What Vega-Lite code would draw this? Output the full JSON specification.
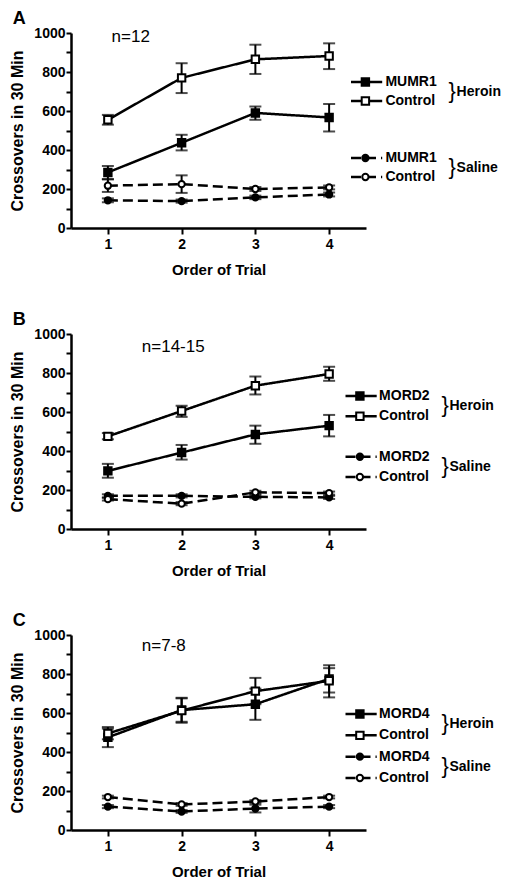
{
  "$schema": "https://vega.github.io/schema/vega-lite/v6.json",
  "padding": {"left": 9, "top": 10, "right": 0, "bottom": 0},
  "spacing": 34,
  "datasets": {
    "A": [
      {"trial": 1, "treatment": "Heroin", "genotype": "Gene", "value": 285, "lo": 250, "hi": 318},
      {"trial": 2, "treatment": "Heroin", "genotype": "Gene", "value": 437, "lo": 398, "hi": 478},
      {"trial": 3, "treatment": "Heroin", "genotype": "Gene", "value": 590, "lo": 555, "hi": 623},
      {"trial": 4, "treatment": "Heroin", "genotype": "Gene", "value": 567, "lo": 495, "hi": 636},
      {"trial": 1, "treatment": "Heroin", "genotype": "Control", "value": 555, "lo": 530, "hi": 580},
      {"trial": 2, "treatment": "Heroin", "genotype": "Control", "value": 770, "lo": 692, "hi": 845},
      {"trial": 3, "treatment": "Heroin", "genotype": "Control", "value": 865, "lo": 790, "hi": 940},
      {"trial": 4, "treatment": "Heroin", "genotype": "Control", "value": 882, "lo": 815, "hi": 947},
      {"trial": 1, "treatment": "Saline", "genotype": "Gene", "value": 142, "lo": 132, "hi": 152},
      {"trial": 2, "treatment": "Saline", "genotype": "Gene", "value": 138, "lo": 130, "hi": 146},
      {"trial": 3, "treatment": "Saline", "genotype": "Gene", "value": 157, "lo": 148, "hi": 166},
      {"trial": 4, "treatment": "Saline", "genotype": "Gene", "value": 172, "lo": 162, "hi": 182},
      {"trial": 1, "treatment": "Saline", "genotype": "Control", "value": 217, "lo": 185, "hi": 250},
      {"trial": 2, "treatment": "Saline", "genotype": "Control", "value": 225, "lo": 180, "hi": 270},
      {"trial": 3, "treatment": "Saline", "genotype": "Control", "value": 200, "lo": 190, "hi": 210},
      {"trial": 4, "treatment": "Saline", "genotype": "Control", "value": 208, "lo": 198, "hi": 218}
    ],
    "B": [
      {"trial": 1, "treatment": "Heroin", "genotype": "Gene", "value": 298, "lo": 263, "hi": 334},
      {"trial": 2, "treatment": "Heroin", "genotype": "Gene", "value": 392, "lo": 356, "hi": 431},
      {"trial": 3, "treatment": "Heroin", "genotype": "Gene", "value": 485, "lo": 437, "hi": 530},
      {"trial": 4, "treatment": "Heroin", "genotype": "Gene", "value": 530, "lo": 475, "hi": 585},
      {"trial": 1, "treatment": "Heroin", "genotype": "Control", "value": 475, "lo": 460, "hi": 492},
      {"trial": 2, "treatment": "Heroin", "genotype": "Control", "value": 605, "lo": 575, "hi": 632},
      {"trial": 3, "treatment": "Heroin", "genotype": "Control", "value": 735, "lo": 690, "hi": 782},
      {"trial": 4, "treatment": "Heroin", "genotype": "Control", "value": 795, "lo": 760, "hi": 832},
      {"trial": 1, "treatment": "Saline", "genotype": "Gene", "value": 170, "lo": 162, "hi": 178},
      {"trial": 2, "treatment": "Saline", "genotype": "Gene", "value": 170, "lo": 162, "hi": 178},
      {"trial": 3, "treatment": "Saline", "genotype": "Gene", "value": 165, "lo": 157, "hi": 173},
      {"trial": 4, "treatment": "Saline", "genotype": "Gene", "value": 162, "lo": 154, "hi": 170},
      {"trial": 1, "treatment": "Saline", "genotype": "Control", "value": 153, "lo": 146, "hi": 160},
      {"trial": 2, "treatment": "Saline", "genotype": "Control", "value": 130, "lo": 122, "hi": 138},
      {"trial": 3, "treatment": "Saline", "genotype": "Control", "value": 188, "lo": 180, "hi": 196},
      {"trial": 4, "treatment": "Saline", "genotype": "Control", "value": 184, "lo": 176, "hi": 192}
    ],
    "C": [
      {"trial": 1, "treatment": "Heroin", "genotype": "Gene", "value": 475, "lo": 425, "hi": 520},
      {"trial": 2, "treatment": "Heroin", "genotype": "Gene", "value": 615, "lo": 550, "hi": 675},
      {"trial": 3, "treatment": "Heroin", "genotype": "Gene", "value": 645, "lo": 565, "hi": 725},
      {"trial": 4, "treatment": "Heroin", "genotype": "Gene", "value": 775, "lo": 705, "hi": 845},
      {"trial": 1, "treatment": "Heroin", "genotype": "Control", "value": 495, "lo": 465, "hi": 528},
      {"trial": 2, "treatment": "Heroin", "genotype": "Control", "value": 612, "lo": 555, "hi": 678},
      {"trial": 3, "treatment": "Heroin", "genotype": "Control", "value": 712, "lo": 645, "hi": 780},
      {"trial": 4, "treatment": "Heroin", "genotype": "Control", "value": 765, "lo": 680, "hi": 830},
      {"trial": 1, "treatment": "Saline", "genotype": "Gene", "value": 120, "lo": 112, "hi": 128},
      {"trial": 2, "treatment": "Saline", "genotype": "Gene", "value": 95, "lo": 88, "hi": 102},
      {"trial": 3, "treatment": "Saline", "genotype": "Gene", "value": 110, "lo": 90, "hi": 130},
      {"trial": 4, "treatment": "Saline", "genotype": "Gene", "value": 120, "lo": 112, "hi": 128},
      {"trial": 1, "treatment": "Saline", "genotype": "Control", "value": 169, "lo": 162, "hi": 176},
      {"trial": 2, "treatment": "Saline", "genotype": "Control", "value": 131, "lo": 124, "hi": 138},
      {"trial": 3, "treatment": "Saline", "genotype": "Control", "value": 146, "lo": 139, "hi": 153},
      {"trial": 4, "treatment": "Saline", "genotype": "Control", "value": 169, "lo": 162, "hi": 176}
    ],
    "notes": [
      {"panel": "A", "note": "n=12"},
      {"panel": "B", "note": "n=14-15"},
      {"panel": "C", "note": "n=7-8"}
    ],
    "LA": [
      {"slot": "h1", "label": "MUMR1", "treatment": "Heroin", "genotype": "Gene", "group": "Heroin"},
      {"slot": "h2", "label": "Control", "treatment": "Heroin", "genotype": "Control", "group": null},
      {"slot": "s1", "label": "MUMR1", "treatment": "Saline", "genotype": "Gene", "group": "Saline"},
      {"slot": "s2", "label": "Control", "treatment": "Saline", "genotype": "Control", "group": null}
    ],
    "LB": [
      {"slot": "h1", "label": "MORD2", "treatment": "Heroin", "genotype": "Gene", "group": "Heroin"},
      {"slot": "h2", "label": "Control", "treatment": "Heroin", "genotype": "Control", "group": null},
      {"slot": "s1", "label": "MORD2", "treatment": "Saline", "genotype": "Gene", "group": "Saline"},
      {"slot": "s2", "label": "Control", "treatment": "Saline", "genotype": "Control", "group": null}
    ],
    "LC": [
      {"slot": "h1", "label": "MORD4", "treatment": "Heroin", "genotype": "Gene", "group": "Heroin"},
      {"slot": "h2", "label": "Control", "treatment": "Heroin", "genotype": "Control", "group": null},
      {"slot": "s1", "label": "MORD4", "treatment": "Saline", "genotype": "Gene", "group": "Saline"},
      {"slot": "s2", "label": "Control", "treatment": "Saline", "genotype": "Control", "group": null}
    ]
  },
  "vconcat": [
    {
      "title": {"text": "A", "anchor": "start", "frame": "bounds", "fontSize": 18, "fontWeight": "bold", "offset": -2, "dx": 3},
      "width": 295, "height": 195,
      "resolve": {"scale": {"x": "independent", "y": "independent"}},
      "layer": [
        {
          "data": {"name": "A"},
          "encoding": {
            "x": {"field": "trial", "type": "quantitative", "scale": {"domain": [0.5, 4.5]}, "title": "Order of Trial", "axis": {"values": [1, 2, 3, 4], "format": "d"}},
            "y": {"field": "value", "type": "quantitative", "scale": {"domain": [0, 1000]}, "title": "Crossovers in 30 Min", "axis": {"values": [0, 100, 200, 300, 400, 500, 600, 700, 800, 900, 1000], "labelExpr": "datum.value % 200 == 0 ? datum.label : ''", "labelOverlap": false, "format": "d"}}
          },
          "layer": [
            {"mark": {"type": "errorbar", "ticks": true, "size": 12, "thickness": 2, "color": "black"}, "encoding": {"y": {"field": "lo", "type": "quantitative"}, "y2": {"field": "hi"}}},
            {"mark": {"type": "line", "color": "black", "strokeWidth": 2.5}, "encoding": {"detail": {"field": "genotype"}, "strokeDash": {"field": "treatment", "type": "nominal", "scale": {"domain": ["Heroin", "Saline"], "range": [[1, 0], [10, 5]]}, "legend": null}}},
            {"mark": {"type": "point", "filled": true, "stroke": "black", "strokeWidth": 2, "opacity": 1}, "encoding": {
              "shape": {"field": "treatment", "type": "nominal", "scale": {"domain": ["Heroin", "Saline"], "range": ["square", "circle"]}, "legend": null},
              "fill": {"field": "genotype", "type": "nominal", "scale": {"domain": ["Gene", "Control"], "range": ["black", "white"]}, "legend": null},
              "size": {"field": "treatment", "type": "nominal", "scale": {"domain": ["Heroin", "Saline"], "range": [55, 40]}, "legend": null}}}
          ]
        },
        {
          "data": {"name": "notes"},
          "transform": [{"filter": "datum.panel == 'A'"}],
          "mark": {"type": "text", "fontSize": 17, "align": "left", "baseline": "middle", "color": "black"},
          "encoding": {
            "x": {"datum": 1.05, "type": "quantitative", "scale": {"domain": [0.5, 4.5]}, "axis": null},
            "y": {"datum": 978, "type": "quantitative", "scale": {"domain": [0, 1000]}, "axis": null},
            "text": {"field": "note", "type": "nominal"}
          }
        },
        {
          "data": {"name": "LA"},
          "encoding": {"y": {"field": "slot", "type": "nominal", "scale": {"type": "point", "padding": 0, "domain": ["h1", "h2", "g1", "g2", "s1", "s2"], "range": [49, 144]}, "axis": null}},
          "layer": [
            {"mark": {"type": "rule", "color": "black", "strokeWidth": 2.5}, "encoding": {"x": {"datum": 0, "type": "quantitative", "scale": {"domain": [0, 10], "range": [280, 440]}, "axis": null}, "x2": {"datum": 1.95}, "strokeDash": {"field": "treatment", "type": "nominal", "legend": null}}},
            {"mark": {"type": "point", "filled": true, "stroke": "black", "strokeWidth": 2, "opacity": 1}, "encoding": {"x": {"datum": 0.9, "type": "quantitative"},
              "shape": {"field": "treatment", "type": "nominal", "legend": null},
              "fill": {"field": "genotype", "type": "nominal", "legend": null},
              "size": {"field": "treatment", "type": "nominal", "legend": null}}},
            {"mark": {"type": "text", "align": "left", "baseline": "middle", "fontSize": 14, "fontWeight": "bold", "color": "black"}, "encoding": {"x": {"datum": 2.15, "type": "quantitative"}, "text": {"field": "label"}}},
            {"transform": [{"filter": "datum.group"}], "mark": {"type": "text", "text": "}", "align": "left", "baseline": "middle", "fontSize": 22, "dy": 9, "color": "black"}, "encoding": {"x": {"datum": 6.1, "type": "quantitative"}}},
            {"transform": [{"filter": "datum.group"}], "mark": {"type": "text", "align": "left", "baseline": "middle", "fontSize": 14, "fontWeight": "bold", "dy": 10, "color": "black"}, "encoding": {"x": {"datum": 6.6, "type": "quantitative"}, "text": {"field": "group"}}}
          ]
        }
      ]
    },
    {
      "title": {"text": "B", "anchor": "start", "frame": "bounds", "fontSize": 18, "fontWeight": "bold", "offset": -2, "dx": 3},
      "width": 295, "height": 195,
      "resolve": {"scale": {"x": "independent", "y": "independent"}},
      "layer": [
        {
          "data": {"name": "B"},
          "encoding": {
            "x": {"field": "trial", "type": "quantitative", "scale": {"domain": [0.5, 4.5]}, "title": "Order of Trial", "axis": {"values": [1, 2, 3, 4], "format": "d"}},
            "y": {"field": "value", "type": "quantitative", "scale": {"domain": [0, 1000]}, "title": "Crossovers in 30 Min", "axis": {"values": [0, 100, 200, 300, 400, 500, 600, 700, 800, 900, 1000], "labelExpr": "datum.value % 200 == 0 ? datum.label : ''", "labelOverlap": false, "format": "d"}}
          },
          "layer": [
            {"mark": {"type": "errorbar", "ticks": true, "size": 12, "thickness": 2, "color": "black"}, "encoding": {"y": {"field": "lo", "type": "quantitative"}, "y2": {"field": "hi"}}},
            {"mark": {"type": "line", "color": "black", "strokeWidth": 2.5}, "encoding": {"detail": {"field": "genotype"}, "strokeDash": {"field": "treatment", "type": "nominal", "scale": {"domain": ["Heroin", "Saline"], "range": [[1, 0], [10, 5]]}, "legend": null}}},
            {"mark": {"type": "point", "filled": true, "stroke": "black", "strokeWidth": 2, "opacity": 1}, "encoding": {
              "shape": {"field": "treatment", "type": "nominal", "scale": {"domain": ["Heroin", "Saline"], "range": ["square", "circle"]}, "legend": null},
              "fill": {"field": "genotype", "type": "nominal", "scale": {"domain": ["Gene", "Control"], "range": ["black", "white"]}, "legend": null},
              "size": {"field": "treatment", "type": "nominal", "scale": {"domain": ["Heroin", "Saline"], "range": [55, 40]}, "legend": null}}}
          ]
        },
        {
          "data": {"name": "notes"},
          "transform": [{"filter": "datum.panel == 'B'"}],
          "mark": {"type": "text", "fontSize": 17, "align": "left", "baseline": "middle", "color": "black"},
          "encoding": {
            "x": {"datum": 1.46, "type": "quantitative", "scale": {"domain": [0.5, 4.5]}, "axis": null},
            "y": {"datum": 935, "type": "quantitative", "scale": {"domain": [0, 1000]}, "axis": null},
            "text": {"field": "note", "type": "nominal"}
          }
        },
        {
          "data": {"name": "LB"},
          "encoding": {"y": {"field": "slot", "type": "nominal", "scale": {"type": "point", "padding": 0, "domain": ["h1", "h2", "g1", "s1", "s2"], "range": [62, 143]}, "axis": null}},
          "layer": [
            {"mark": {"type": "rule", "color": "black", "strokeWidth": 2.5}, "encoding": {"x": {"datum": 0, "type": "quantitative", "scale": {"domain": [0, 10], "range": [274.5, 434.5]}, "axis": null}, "x2": {"datum": 1.95}, "strokeDash": {"field": "treatment", "type": "nominal", "legend": null}}},
            {"mark": {"type": "point", "filled": true, "stroke": "black", "strokeWidth": 2, "opacity": 1}, "encoding": {"x": {"datum": 0.9, "type": "quantitative"},
              "shape": {"field": "treatment", "type": "nominal", "legend": null},
              "fill": {"field": "genotype", "type": "nominal", "legend": null},
              "size": {"field": "treatment", "type": "nominal", "legend": null}}},
            {"mark": {"type": "text", "align": "left", "baseline": "middle", "fontSize": 14, "fontWeight": "bold", "color": "black"}, "encoding": {"x": {"datum": 2.1, "type": "quantitative"}, "text": {"field": "label"}}},
            {"transform": [{"filter": "datum.group"}], "mark": {"type": "text", "text": "}", "align": "left", "baseline": "middle", "fontSize": 22, "dy": 9, "color": "black"}, "encoding": {"x": {"datum": 6.0, "type": "quantitative"}}},
            {"transform": [{"filter": "datum.group"}], "mark": {"type": "text", "align": "left", "baseline": "middle", "fontSize": 14, "fontWeight": "bold", "dy": 10, "color": "black"}, "encoding": {"x": {"datum": 6.5, "type": "quantitative"}, "text": {"field": "group"}}}
          ]
        }
      ]
    },
    {
      "title": {"text": "C", "anchor": "start", "frame": "bounds", "fontSize": 18, "fontWeight": "bold", "offset": -2, "dx": 3},
      "width": 295, "height": 195,
      "resolve": {"scale": {"x": "independent", "y": "independent"}},
      "layer": [
        {
          "data": {"name": "C"},
          "encoding": {
            "x": {"field": "trial", "type": "quantitative", "scale": {"domain": [0.5, 4.5]}, "title": "Order of Trial", "axis": {"values": [1, 2, 3, 4], "format": "d"}},
            "y": {"field": "value", "type": "quantitative", "scale": {"domain": [0, 1000]}, "title": "Crossovers in 30 Min", "axis": {"values": [0, 100, 200, 300, 400, 500, 600, 700, 800, 900, 1000], "labelExpr": "datum.value % 200 == 0 ? datum.label : ''", "labelOverlap": false, "format": "d"}}
          },
          "layer": [
            {"mark": {"type": "errorbar", "ticks": true, "size": 12, "thickness": 2, "color": "black"}, "encoding": {"y": {"field": "lo", "type": "quantitative"}, "y2": {"field": "hi"}}},
            {"mark": {"type": "line", "color": "black", "strokeWidth": 2.5}, "encoding": {"detail": {"field": "genotype"}, "strokeDash": {"field": "treatment", "type": "nominal", "scale": {"domain": ["Heroin", "Saline"], "range": [[1, 0], [10, 5]]}, "legend": null}}},
            {"mark": {"type": "point", "filled": true, "stroke": "black", "strokeWidth": 2, "opacity": 1}, "encoding": {
              "shape": {"field": "treatment", "type": "nominal", "scale": {"domain": ["Heroin", "Saline"], "range": ["square", "circle"]}, "legend": null},
              "fill": {"field": "genotype", "type": "nominal", "scale": {"domain": ["Gene", "Control"], "range": ["black", "white"]}, "legend": null},
              "size": {"field": "treatment", "type": "nominal", "scale": {"domain": ["Heroin", "Saline"], "range": [55, 40]}, "legend": null}}}
          ]
        },
        {
          "data": {"name": "notes"},
          "transform": [{"filter": "datum.panel == 'C'"}],
          "mark": {"type": "text", "fontSize": 17, "align": "left", "baseline": "middle", "color": "black"},
          "encoding": {
            "x": {"datum": 1.46, "type": "quantitative", "scale": {"domain": [0.5, 4.5]}, "axis": null},
            "y": {"datum": 942, "type": "quantitative", "scale": {"domain": [0, 1000]}, "axis": null},
            "text": {"field": "note", "type": "nominal"}
          }
        },
        {
          "data": {"name": "LC"},
          "encoding": {"y": {"field": "slot", "type": "nominal", "scale": {"type": "point", "padding": 0, "domain": ["h1", "h2", "s1", "s2"], "range": [79, 143]}, "axis": null}},
          "layer": [
            {"mark": {"type": "rule", "color": "black", "strokeWidth": 2.5}, "encoding": {"x": {"datum": 0, "type": "quantitative", "scale": {"domain": [0, 10], "range": [274.5, 434.5]}, "axis": null}, "x2": {"datum": 1.95}, "strokeDash": {"field": "treatment", "type": "nominal", "legend": null}}},
            {"mark": {"type": "point", "filled": true, "stroke": "black", "strokeWidth": 2, "opacity": 1}, "encoding": {"x": {"datum": 0.9, "type": "quantitative"},
              "shape": {"field": "treatment", "type": "nominal", "legend": null},
              "fill": {"field": "genotype", "type": "nominal", "legend": null},
              "size": {"field": "treatment", "type": "nominal", "legend": null}}},
            {"mark": {"type": "text", "align": "left", "baseline": "middle", "fontSize": 14, "fontWeight": "bold", "color": "black"}, "encoding": {"x": {"datum": 2.1, "type": "quantitative"}, "text": {"field": "label"}}},
            {"transform": [{"filter": "datum.group"}], "mark": {"type": "text", "text": "}", "align": "left", "baseline": "middle", "fontSize": 22, "dy": 9, "color": "black"}, "encoding": {"x": {"datum": 6.0, "type": "quantitative"}}},
            {"transform": [{"filter": "datum.group"}], "mark": {"type": "text", "align": "left", "baseline": "middle", "fontSize": 14, "fontWeight": "bold", "dy": 10, "color": "black"}, "encoding": {"x": {"datum": 6.5, "type": "quantitative"}, "text": {"field": "group"}}}
          ]
        }
      ]
    }
  ],
  "config": {
    "font": "Liberation Sans",
    "view": {"stroke": null},
    "title": {"color": "black"},
    "axis": {"grid": false, "domainColor": "black", "domainWidth": 2.5, "tickColor": "black", "tickWidth": 2, "tickSize": 6, "labelFont": "Liberation Sans", "labelFontSize": 14, "labelFontWeight": "bold", "labelColor": "black", "labelPadding": 2, "titleFont": "Liberation Sans", "titleFontSize": 16, "titleFontWeight": "bold", "titleColor": "black"},
    "axisX": {"titleFontSize": 15, "titlePadding": 11, "labelFlush": false, "labelPadding": 3},
    "axisY": {"titlePadding": 8, "tickSize": 5, "labelPadding": 1}
  }
}
